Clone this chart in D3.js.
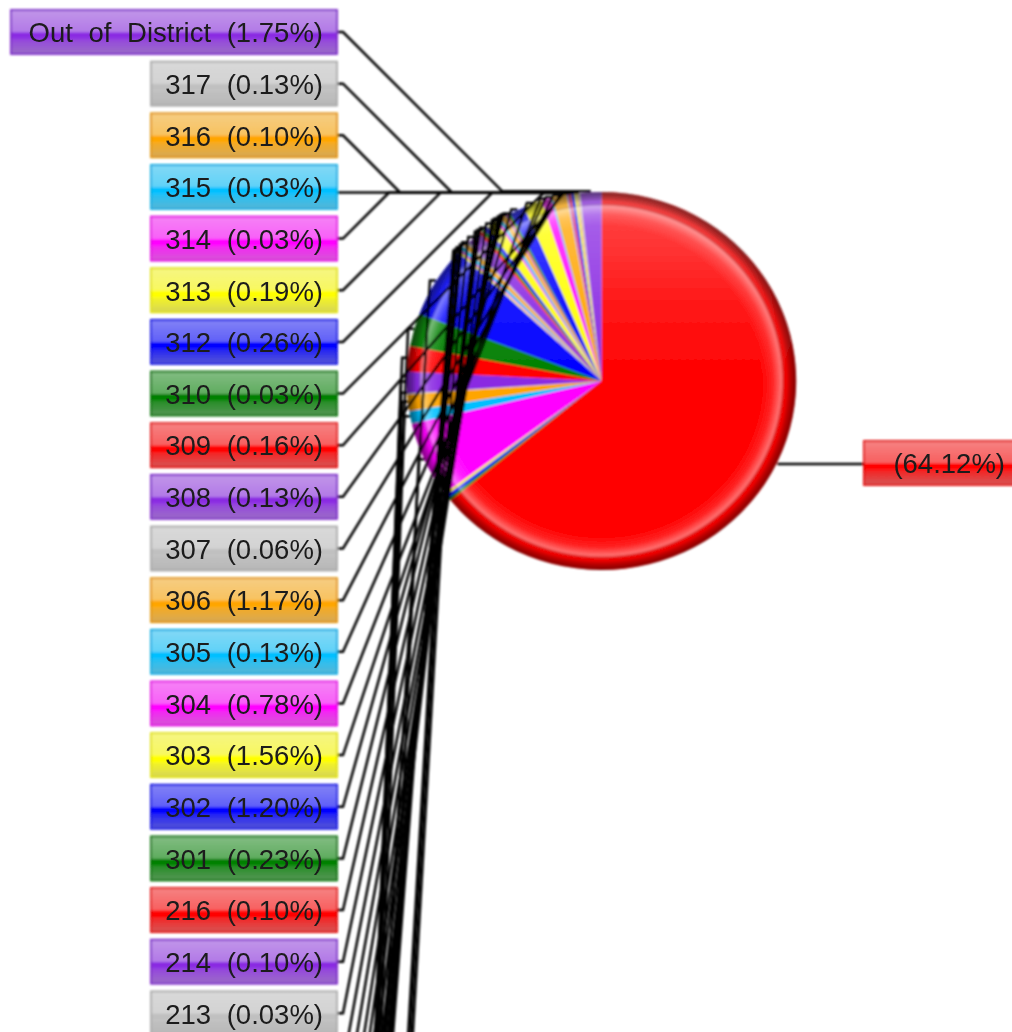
<!DOCTYPE html>
<html><head><meta charset="utf-8">
<script src="https://cdn.jsdelivr.net/npm/d3@7"></script>
<style>html,body{margin:0;padding:0;background:#fff;overflow:hidden}svg{display:block}</style>
</head><body>
<script>
// Visible labelled slices, in label order from the top of the left column
const labelNames = ["Out of District","317","316","315","314","313","312","310","309","308","307","306","305","304","303","302","301","216","214","213"];
const labelValues = [1.75,0.13,0.10,0.03,0.03,0.19,0.26,0.03,0.16,0.13,0.06,1.17,0.13,0.78,1.56,1.20,0.23,0.10,0.10,0.03];
// Main slice, labelled with a percentage only
const mainName = "";
const mainValue = 64.12;
// Slices whose labels run off the bottom of the picture (clockwise after the main slice)
const unlabelledValues = [0.26,0.29,0.20,6.50,1.10,1.40,0.10,1.80,2.20,2.80,6.10,
  0.19,0.16,0.32,0.39,0.16,1.15,0.26,0.26,0.32,0.90,0.20,0.26,0.39];
// Colour cycle, walking anticlockwise from the last slice
const palette = ["#8a2be2","#c0c0c0","#ffa500","#00bfff","#ff00ff","#ffff00","#0000ff","#008000","#ff0000"];

const W=1012,H=1032, cx=601.5, cy=381, R=189, xStretch=1.03;
const labelRight=337, stubX=343, rowTop=32, rowStep=51.65, boxH=44;

const rows=[];
rows.push({name:mainName,value:mainValue,color:"#ff0000",main:true});
const nU=unlabelledValues.length,nL=labelValues.length;
unlabelledValues.forEach((v,i)=>{const back=nL+(nU-1-i);rows.push({value:v,color:palette[back%9],row:back});});
for(let i=nL-1;i>=0;i--)rows.push({name:labelNames[i],value:labelValues[i],color:palette[i%9],row:i});

const svg=d3.select("body").append("svg").attr("width",W).attr("height",H).attr("viewBox",`0 0 ${W} ${H}`);
const defs=svg.append("defs");
defs.append("filter").attr("id","soft").attr("x","-5%").attr("y","-5%").attr("width","110%").attr("height","110%")
  .append("feGaussianBlur").attr("stdDeviation",0.8);
defs.append("filter").attr("id","softText").attr("x","-5%").attr("y","-5%").attr("width","110%").attr("height","110%")
  .append("feGaussianBlur").attr("stdDeviation",0.55);

const bevel=defs.append("radialGradient").attr("id","bevel");
[[0,"#fff",0],[0.82,"#fff",0],[0.88,"#fff",0.14],[0.925,"#fff",0.45],[0.945,"#000",0.02],[0.97,"#000",0.28],[1,"#000",0.5]]
 .forEach(s=>bevel.append("stop").attr("offset",s[0]).attr("stop-color",s[1]).attr("stop-opacity",s[2]));
const topGloss=defs.append("linearGradient").attr("id","topGloss").attr("x1",0).attr("x2",0).attr("y1",0).attr("y2",1);
[[0,"#fff",0.28],[0.15,"#fff",0.2],[0.3,"#fff",0.09],[0.5,"#fff",0]]
 .forEach(s=>topGloss.append("stop").attr("offset",s[0]).attr("stop-color",s[1]).attr("stop-opacity",s[2]));
const gloss=defs.append("linearGradient").attr("id","gloss").attr("x1",0).attr("x2",0).attr("y1",0).attr("y2",1);
[[0,"#eee",0.55],[0.5,"#eee",0.4],[0.52,"#fff",0.0],[0.62,"#fff",0.0],[0.7,"#bbb",0.22],[1,"#aaa",0.5]]
 .forEach(s=>gloss.append("stop").attr("offset",s[0]).attr("stop-color",s[1]).attr("stop-opacity",s[2]));

const root=svg.append("g").attr("filter","url(#soft)");
const pie=d3.pie().sort(null).value(d=>d.value)(rows);
const arc=d3.arc().innerRadius(0).outerRadius(R);
const rim=d3.arc().innerRadius(R).outerRadius(R);
const disc=root.append("g").attr("transform",`translate(${cx},${cy}) scale(${xStretch},1)`);
disc.selectAll("path").data(pie).join("path").attr("d",arc).attr("fill",d=>d.data.color);
disc.append("circle").attr("r",R).attr("fill","url(#topGloss)");
disc.append("circle").attr("r",R).attr("fill","url(#bevel)");

const y=r=>rowTop+rowStep*r;
const line=d3.line();
const leaders=root.append("g").attr("fill","none").attr("stroke","#000").attr("stroke-width",2.5);
pie.forEach(d=>{
  const c=rim.centroid(d), px=cx+c[0]*xStretch, py=cy+c[1]-1;
  if(d.data.main){
    leaders.append("path").attr("d",line([[px,py+3],[864,py+3]]));
    return;
  }
  const ly=y(d.data.row);
  const dy=Math.abs(ly-py);
  if(dy<8){ leaders.append("path").attr("d",line([[labelRight,py],[px,py]])); return; }
  const ex=Math.min(stubX+dy,px-6);
  leaders.append("path").attr("d",line([[labelRight,ly],[stubX,ly],[ex,py],[px,py]]));
});

const labels=root.append("g");
const texts=svg.append("g").attr("filter","url(#softText)");
function box(x,w,yc,color,text){
  labels.append("rect").attr("x",x).attr("y",yc-boxH/2).attr("width",w).attr("height",boxH).attr("fill",color);
  labels.append("rect").attr("x",x).attr("y",yc-boxH/2).attr("width",w).attr("height",boxH).attr("fill","url(#gloss)")
    .attr("stroke",d3.color(color).darker(0.35)).attr("stroke-width",1.8);
  texts.append("text").attr("x",x+w-14).attr("y",yc+3).attr("text-anchor","end").attr("dominant-baseline","middle")
    .attr("font-family","'Liberation Sans',Arial,sans-serif").attr("font-size",27.5).attr("word-spacing",8)
    .attr("fill","#1a1a1a")
    .text(text);
}
labelNames.forEach((n,i)=>{
  const t=`${n} (${labelValues[i].toFixed(2)}%)`;
  const x=i===0?11:151;
  box(x,labelRight-x,y(i),palette[i%9],t);
});
box(864,155,463,"#ff0000",`(${mainValue.toFixed(2)}%)`);
</script>
</body></html>
